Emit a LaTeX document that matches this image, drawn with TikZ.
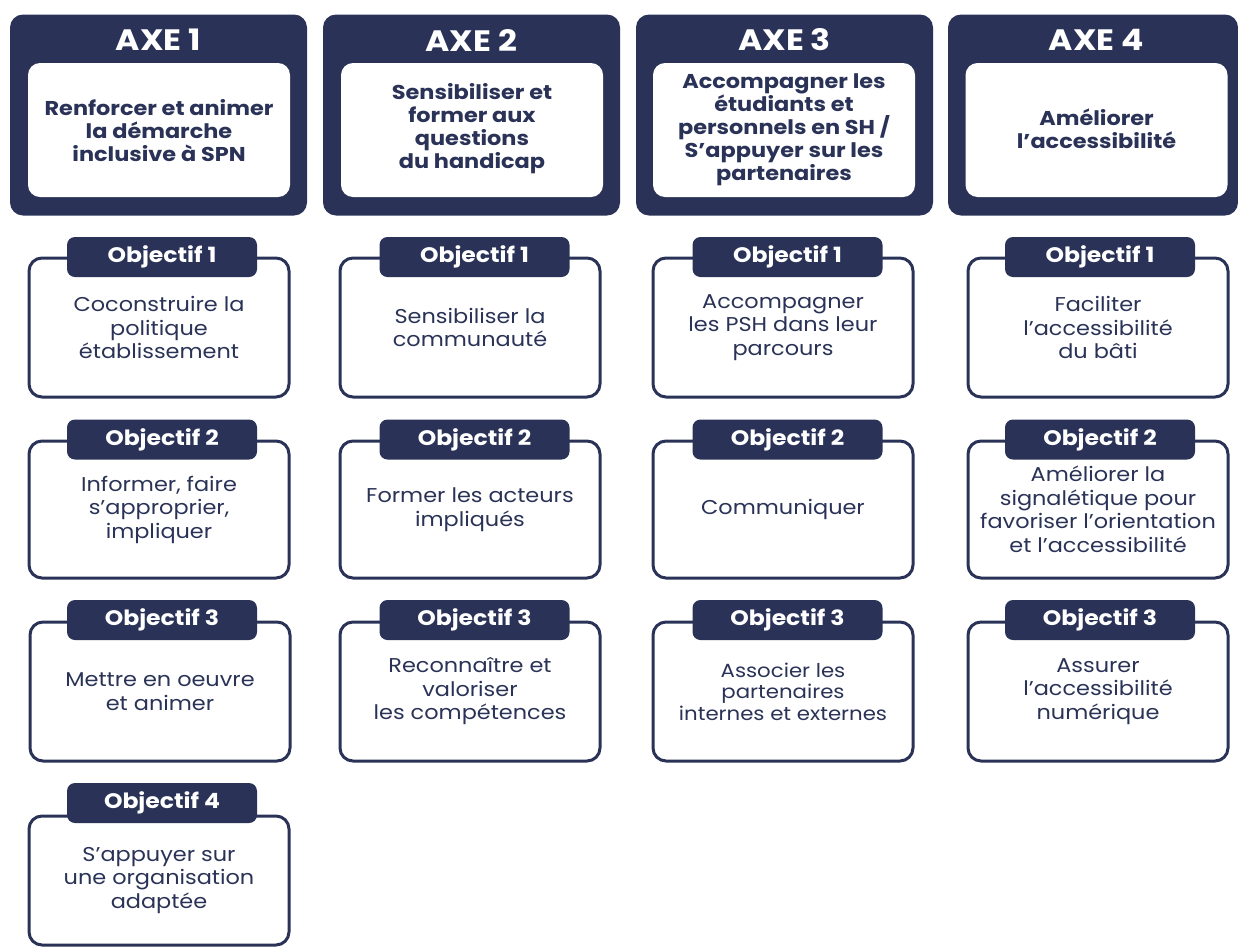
\documentclass[tikz,border=0pt]{standalone}
\usepackage{fontspec}
\setmainfont{Poppins}[FakeStretch=1.12]
\definecolor{navy}{RGB}{42,51,87}
\begin{document}
\begin{tikzpicture}[x=1pt,y=-1pt,
  axebox/.style={fill=navy, rounded corners=13pt, minimum width=297pt, minimum height=201pt, inner sep=0pt},
  axetitle/.style={text=white, font={\fontsize{29.5}{31}\selectfont\bfseries}, inner sep=0pt},
  axeinner/.style={fill=white, rounded corners=12pt, minimum width=262pt, minimum height=134pt, inner sep=0pt},
  axetext/.style={text=navy, align=center, font={\fontsize{20}{23}\selectfont\bfseries}, inner sep=0pt},
  objbox/.style={draw=navy, line width=3pt, fill=white, rounded corners=13pt, minimum width=260pt, inner sep=0pt, align=center, text=navy, font={\fontsize{20}{23.5}\selectfont}},
  objtab/.style={fill=navy, rounded corners=8pt, minimum width=190pt, minimum height=40pt, inner sep=0pt, text=white, font={\fontsize{21}{22}\selectfont\bfseries}}
]
\useasboundingbox (0,0) rectangle (1238,948);

% ---- AXE headers
\node[axebox] (ax1) at (158.5,115) {};
\node[axebox] (ax2) at (471.5,115) {};
\node[axebox] (ax3) at (784.5,115) {};
\node[axebox, minimum width=290pt] (ax4) at (1093,115) {};
\node[axetitle] (ax1t) at (158.5,40) {AXE 1};
\node[axetitle] (ax2t) at (471.5,40) {AXE 2};
\node[axetitle] (ax3t) at (784.5,40) {AXE 3};
\node[axetitle] (ax4t) at (1096.5,40) {AXE 4};
\node[axeinner] (ax1i) at (159,130) {};
\node[axeinner] (ax2i) at (472,130) {};
\node[axeinner] (ax3i) at (784,130) {};
\node[axeinner] (ax4i) at (1096.5,130) {};
\node[axetext] (ax1x) at (159,131) {Renforcer et animer\\la démarche\\inclusive à SPN};
\node[axetext] (ax2x) at (472,129) {Sensibiliser et\\former aux\\questions\\du handicap};
\node[axetext] (ax3x) at (784,129.5) {Accompagner les\\étudiants et\\personnels en SH /\\S’appuyer sur les\\partenaires};
\node[axetext] (ax4x) at (1096.5,129) {Améliorer\\l’accessibilité};

% ---- Column 1
\node[objbox, minimum height=139pt] (b11) at (159,327.5) {Coconstruire la\\politique\\établissement};
\node[objtab] (t11) at (162,257) {Objectif 1};
\node[objbox, minimum height=137pt] (b12) at (159,509.5) {Informer, faire\\s’approprier,\\impliquer};
\node[objtab] (t12) at (162,439.5) {Objectif 2};
\node[objbox, minimum height=139pt] (b13) at (160,691.5) {Mettre en oeuvre\\et animer};
\node[objtab] (t13) at (162,620) {Objectif 3};
\node[objbox, minimum height=129pt] (b14) at (159,880.5) {S’appuyer sur\\une organisation\\adaptée};
\node[objtab] (t14) at (162,803) {Objectif 4};

% ---- Column 2
\node[objbox, minimum height=139pt] (b21) at (470,327.5) {Sensibiliser la\\communauté};
\node[objtab] (t21) at (474.5,257) {Objectif 1};
\node[objbox, minimum height=137pt] (b22) at (470,509.5) {Former les acteurs\\impliqués};
\node[objtab] (t22) at (474.5,439.5) {Objectif 2};
\node[objbox, minimum height=139pt] (b23) at (470,691.5) {Reconnaître et\\valoriser\\les compétences};
\node[objtab] (t23) at (474.5,620) {Objectif 3};

% ---- Column 3
\node[objbox, minimum height=139pt] (b31) at (783,327.5) {Accompagner\\les PSH dans leur\\parcours};
\node[objtab] (t31) at (787.5,257) {Objectif 1};
\node[objbox, minimum height=137pt] (b32) at (783,509.5) {Communiquer};
\node[objtab] (t32) at (787.5,439.5) {Objectif 2};
\node[objbox, minimum height=139pt, font={\fontsize{19}{21.5}\selectfont}] (b33) at (783,691.5) {Associer les\\partenaires\\internes et externes};
\node[objtab] (t33) at (787.5,620) {Objectif 3};

% ---- Column 4
\node[objbox, minimum height=139pt] (b41) at (1098,327.5) {Faciliter\\l’accessibilité\\du bâti};
\node[objtab] (t41) at (1100,257) {Objectif 1};
\node[objbox, minimum height=137pt] (b42) at (1098,509.5) {Améliorer la\\signalétique pour\\favoriser l’orientation\\et l’accessibilité};
\node[objtab] (t42) at (1100,439.5) {Objectif 2};
\node[objbox, minimum height=139pt] (b43) at (1098,691.5) {Assurer\\l’accessibilité\\numérique};
\node[objtab] (t43) at (1100,620) {Objectif 3};
\end{tikzpicture}
\end{document}
